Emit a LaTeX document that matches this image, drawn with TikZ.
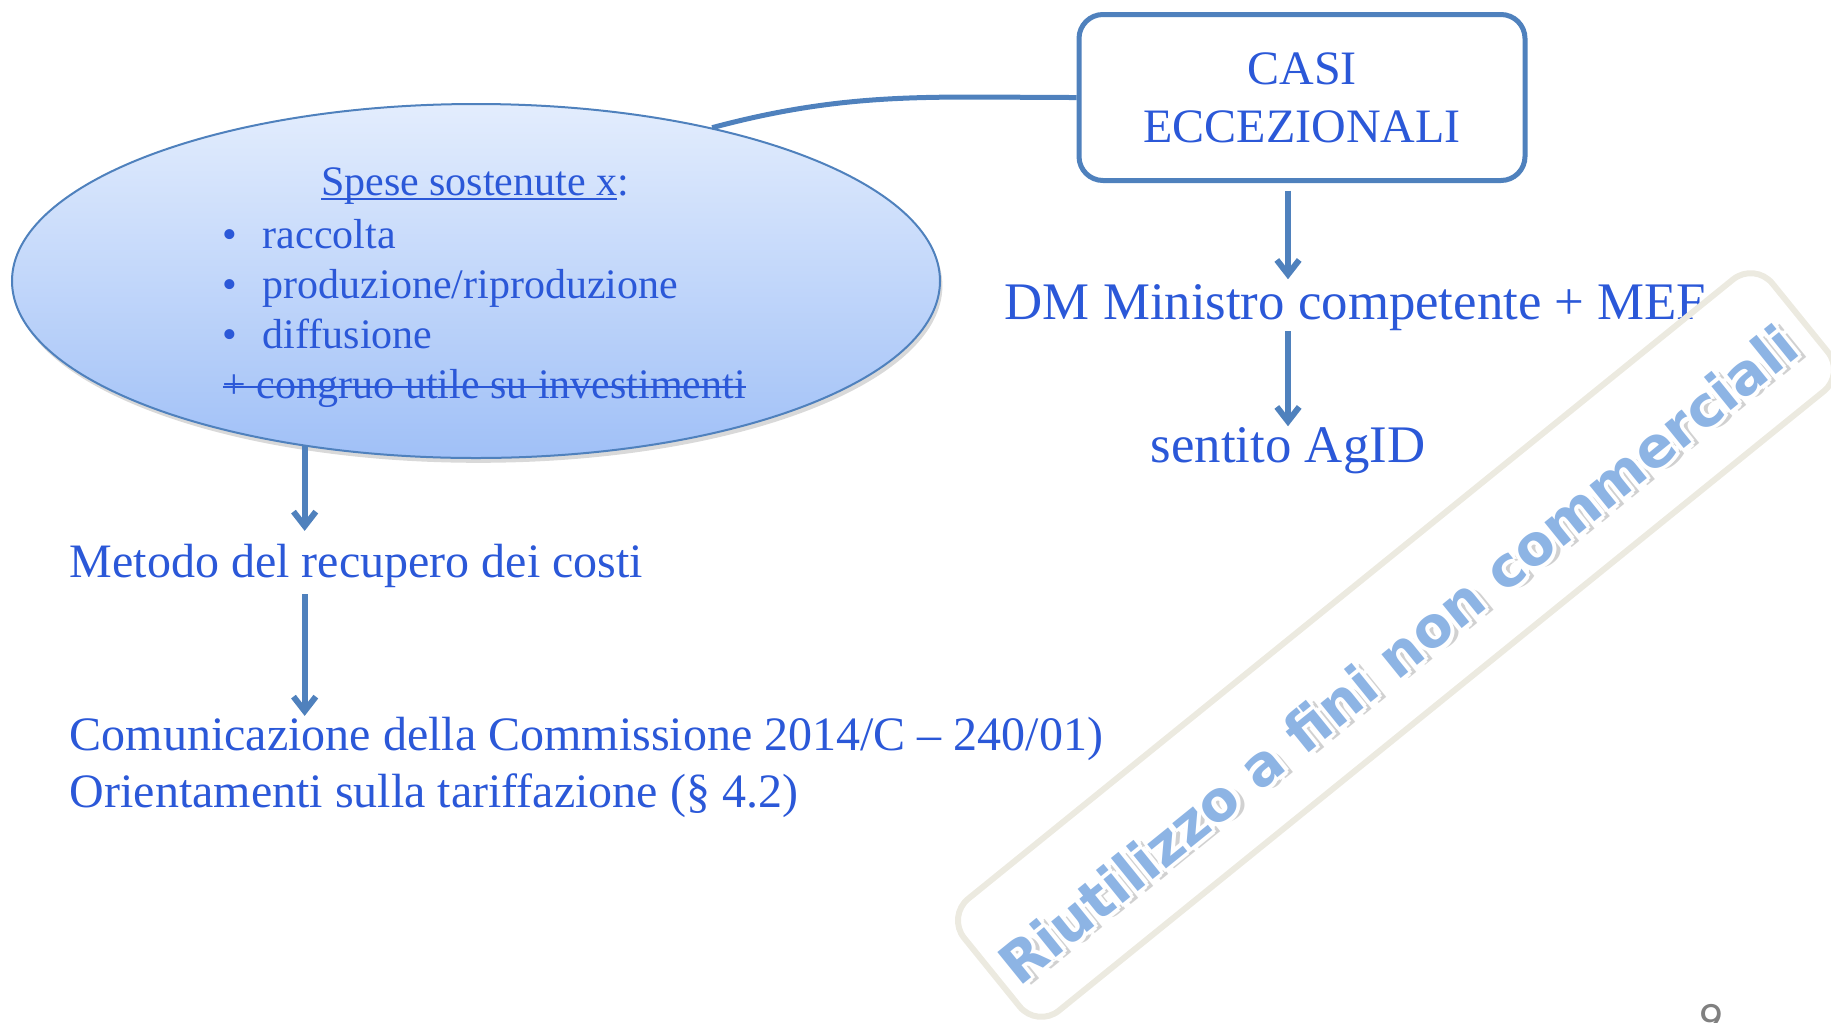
\documentclass[tikz,border=0pt]{standalone}
\usepackage{fontspec}
\setmainfont{Liberation Serif}
\newfontfamily\marchiofont{DejaVu Sans}
\newfontfamily\numfont{Carlito}
\usetikzlibrary{shapes.geometric,shadows,arrows.meta}
\definecolor{testoblu}{RGB}{43,88,216}
\definecolor{lineablu}{RGB}{79,129,189}
\definecolor{ellsopra}{RGB}{227,237,253}
\definecolor{ellsotto}{RGB}{160,192,247}
\definecolor{cornice}{RGB}{236,234,224}
\definecolor{marchioblu}{RGB}{141,180,228}
% sottolineato e barrato
\newcommand\sotto[1]{\setbox0\hbox{#1}\dimen0=\wd0 \box0\llap{\rule[-1.3pt]{\dimen0}{0.5pt}}}
\newcommand\barrato[1]{\setbox0\hbox{#1}\dimen0=\wd0 \box0\llap{\rule[2.4pt]{\dimen0}{0.55pt}}}
% contorno bianco del marchio
\newcommand\copia[4]{\rlap{\kern#1\raisebox{#2}{\color{#3}#4}}}
\newcommand\contorno[1]{\copia{1.4pt}{-1.4pt}{black!18}{#1}\copia{1pt}{0pt}{white}{#1}\copia{-1pt}{0pt}{white}{#1}\copia{0pt}{1pt}{white}{#1}\copia{0pt}{-1pt}{white}{#1}\copia{0.7pt}{0.7pt}{white}{#1}\copia{-0.7pt}{0.7pt}{white}{#1}\copia{0.7pt}{-0.7pt}{white}{#1}\copia{-0.7pt}{-0.7pt}{white}{#1}#1}
\tikzset{
  testo/.style={inner sep=0pt, text=testoblu, font=\fontsize{12}{14.25}\selectfont},
  grande/.style={inner sep=0pt, text=testoblu, font=\fontsize{13.2}{16}\selectfont},
  piccolo/.style={inner sep=0pt, text=testoblu, font=\fontsize{10.5}{12.5}\selectfont},
  freccia/.style={->, >={Straight Barb[length=3.6pt, width=5.6pt]}, draw=lineablu, line width=1.5pt},
}

\begin{document}
\begin{tikzpicture}[x=0.25pt, y=0.25pt]
\useasboundingbox (0,0) rectangle (1831,1022);
\clip (0,0) rectangle (1831,1022);

\node[shape=ellipse, draw=lineablu, line width=0.5pt, top color=ellsopra, bottom color=ellsotto, minimum width=232pt, minimum height=88.5pt, inner sep=0pt, drop shadow={opacity=0.3, shadow xshift=0.6pt, shadow yshift=-1.2pt}] (ell) at (476,741) {};
\node[piccolo, anchor=base] (titolo) at (475,827) {\sotto{Spese sostenute x}:};
\node[piccolo, anchor=base west, align=left] (voci) at (222,624) {\makebox[10pt][l]{\textbullet}raccolta\\\makebox[10pt][l]{\textbullet}produzione/riproduzione\\\makebox[10pt][l]{\textbullet}diffusione\\\barrato{+ congruo utile su investimenti}};
\node[shape=rectangle, rounded corners=6pt, draw=lineablu, line width=1.25pt, fill=white, minimum width=111.5pt, minimum height=41.5pt, align=center, testo, font=\fontsize{12}{14.5}\selectfont] (casi) at (1302,924.5) {CASI\\ECCEZIONALI};
\node[grande, anchor=base west] (dm) at (1004,703) {DM Ministro competente + MEF};
\node[grande, anchor=base] (agid) at (1288,560) {sentito AgID};
\node[testo, anchor=base west] (metodo) at (69,445) {Metodo del recupero dei costi};
\node[testo, anchor=base west, align=left] (comunicazione) at (69,215) {Comunicazione della Commissione 2014/C – 240/01)\\Orientamenti sulla tariffazione (§ 4.2)};
\node[text=gray, font=\numfont\fontsize{12}{14}\selectfont, anchor=base] (pagina) at (1711,-13) {9};

\draw[draw=lineablu, line width=1.25pt] (casi.west) to[out=180, in=15] (ell.33);
\draw[freccia, shorten <=1.9pt, shorten >=1pt] (casi.south -| agid.north) -- (dm.north -| agid.north);
\draw[freccia] (dm.south -| agid.north) -- (agid.north);
\draw[freccia, shorten >=3pt] (ell.224) -- (ell.224 |- metodo.north);
\draw[freccia, shorten <=1.6pt] (ell.224 |- metodo.south) -- (ell.224 |- comunicazione.north);

\node[shape=rectangle, rounded corners=7pt, draw=cornice, line width=1.5pt, minimum width=260pt, minimum height=36pt, rotate=39] (cornice) at (1396,377) {};
\node[rotate=39, text=marchioblu, font=\marchiofont\bfseries\fontsize{14}{18}\selectfont] (marchio) at (1398,367) {\contorno{Riutilizzo a fini non commerciali}};
\end{tikzpicture}
\end{document}
